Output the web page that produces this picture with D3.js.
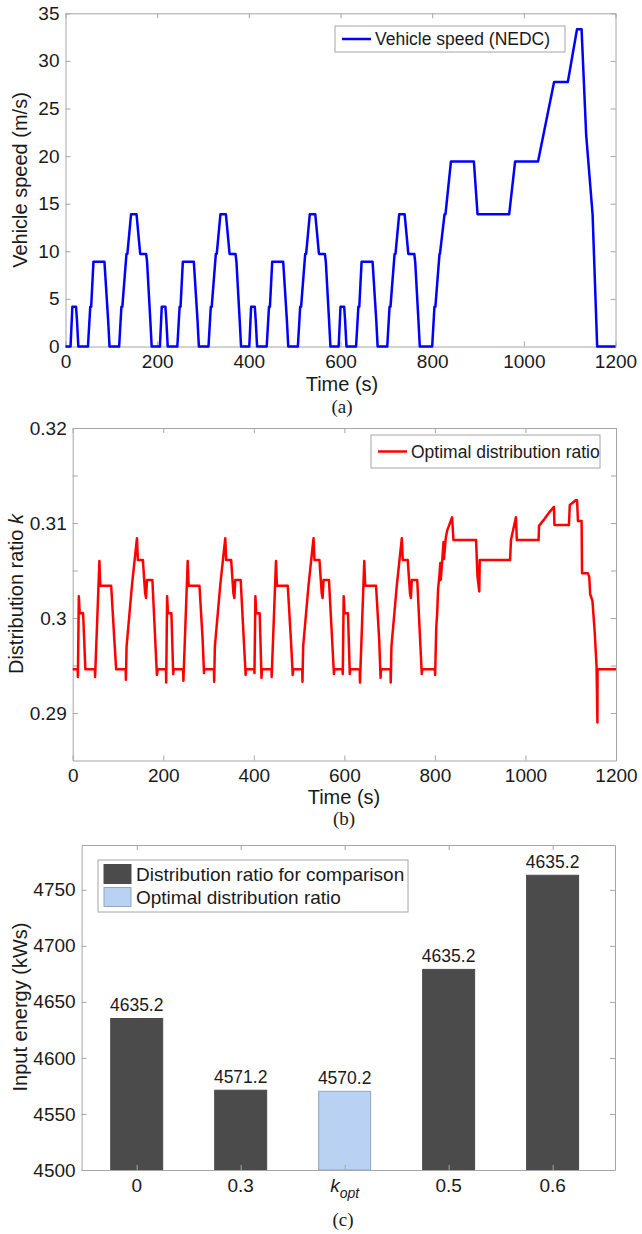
<!DOCTYPE html>
<html>
<head>
<meta charset="utf-8">
<script src="https://cdn.jsdelivr.net/npm/d3@7"></script>
<style>
  body { margin: 0; background: #fff; }
  svg text { font-family: "Liberation Sans", Arial, Helvetica, sans-serif; fill: #1a1a1a; }
  svg text.caption { font-family: "Liberation Serif", "Times New Roman", serif; }
</style>
</head>
<body>
<svg id="fig" width="642" height="1234"></svg>
<script>
// ---------- data ----------

// (a) NEDC vehicle speed, [time s, speed m/s]
const speedProfile = [
  [0, 0], [11, 0], [15, 4.17], [23, 4.17], [25, 2.78], [28, 0], [49, 0], [54, 4.17], [56, 4.17], [61, 8.89],
  [85, 8.89], [93, 2.78], [96, 0], [117, 0], [122, 4.17], [124, 4.17], [133, 9.72], [135, 9.72], [143, 13.89],
  [155, 13.89], [163, 9.72], [176, 9.72], [178, 8.89], [185, 2.78], [188, 0],
  [206, 0], [210, 4.17], [218, 4.17], [220, 2.78], [223, 0], [244, 0], [249, 4.17], [251, 4.17], [256, 8.89],
  [280, 8.89], [288, 2.78], [291, 0], [312, 0], [317, 4.17], [319, 4.17], [328, 9.72], [330, 9.72], [338, 13.89],
  [350, 13.89], [358, 9.72], [371, 9.72], [373, 8.89], [380, 2.78], [383, 0],
  [401, 0], [405, 4.17], [413, 4.17], [415, 2.78], [418, 0], [439, 0], [444, 4.17], [446, 4.17], [451, 8.89],
  [475, 8.89], [483, 2.78], [486, 0], [507, 0], [512, 4.17], [514, 4.17], [523, 9.72], [525, 9.72], [533, 13.89],
  [545, 13.89], [553, 9.72], [566, 9.72], [568, 8.89], [575, 2.78], [578, 0],
  [596, 0], [600, 4.17], [608, 4.17], [610, 2.78], [613, 0], [634, 0], [639, 4.17], [641, 4.17], [646, 8.89],
  [670, 8.89], [678, 2.78], [681, 0], [702, 0], [707, 4.17], [709, 4.17], [718, 9.72], [720, 9.72], [728, 13.89],
  [740, 13.89], [748, 9.72], [761, 9.72], [763, 8.89], [770, 2.78], [773, 0],
  [800, 0], [805, 4.17], [807, 4.17], [816, 9.72], [817, 9.72], [827, 13.89], [829, 13.89], [841, 19.44],
  [891, 19.44], [899, 13.89], [968, 13.89], [981, 19.44], [1031, 19.44], [1066, 27.78], [1096, 27.78],
  [1116, 33.33], [1126, 33.33], [1136, 22.22], [1150, 13.89], [1160, 0], [1200, 0]
];

// (b) optimal distribution ratio k, [time s, k]
const kProfile = [
  [0, 0.2946], [11, 0.2946], [11.5, 0.2938], [13.5, 0.3023], [15.5, 0.3005], [23, 0.3005], [28, 0.2946],
  [49, 0.2946], [49.5, 0.2938], [59, 0.3060], [61, 0.3034], [85, 0.3034], [92, 0.2977], [96, 0.2946],
  [117, 0.2946], [117.5, 0.2935], [119, 0.2970], [131, 0.3035], [137, 0.3062], [142, 0.3084], [144, 0.3061],
  [155, 0.3061], [160, 0.3026], [162, 0.3021], [164, 0.3040], [176, 0.3040], [186, 0.2940], [188, 0.2946],
  [206, 0.2946], [206.5, 0.2932], [208.5, 0.3023], [210.5, 0.3005], [218, 0.3005], [222, 0.2941], [223, 0.2946],
  [244, 0.2946], [244.5, 0.2934], [254, 0.3060], [256, 0.3034], [280, 0.3034], [287, 0.2977], [290, 0.2942],
  [291, 0.2946], [312, 0.2946], [312.5, 0.2933], [314, 0.2970], [326, 0.3035], [332, 0.3062], [337, 0.3084],
  [339, 0.3061], [350, 0.3061], [355, 0.3026], [357, 0.3021], [359, 0.3040], [371, 0.3040], [382, 0.2940],
  [383, 0.2946],
  [401, 0.2946], [401.5, 0.2942], [403.5, 0.3023], [405.5, 0.3005], [413, 0.3005], [417, 0.2937], [418, 0.2946],
  [439, 0.2946], [439.5, 0.2938], [449, 0.3060], [451, 0.3034], [475, 0.3034], [482, 0.2977], [486, 0.2940],
  [487, 0.2946], [507, 0.2946], [507.5, 0.2933], [509, 0.2970], [521, 0.3035], [527, 0.3062], [532, 0.3084],
  [534, 0.3061], [545, 0.3061], [550, 0.3026], [552, 0.3021], [554, 0.3040], [566, 0.3040], [577, 0.2941],
  [578, 0.2946],
  [596, 0.2946], [596.5, 0.2941], [598.5, 0.3023], [600.5, 0.3005], [608, 0.3005], [612, 0.2941], [613, 0.2946],
  [634, 0.2946], [634.5, 0.2932], [644, 0.3060], [646, 0.3034], [670, 0.3034], [677, 0.2977], [680, 0.2937],
  [681, 0.2946], [702, 0.2946], [702.5, 0.2932], [704, 0.2970], [716, 0.3035], [722, 0.3062], [727, 0.3084],
  [729, 0.3061], [740, 0.3061], [745, 0.3026], [747, 0.3021], [749, 0.3040], [761, 0.3040], [771, 0.2941],
  [772, 0.2946],
  [800, 0.2946], [800.5, 0.2940], [803, 0.2990], [805, 0.3005], [807, 0.3030], [810, 0.3045], [812, 0.3058],
  [813, 0.3040], [817, 0.3066], [819, 0.3080], [820, 0.3062], [824, 0.3084], [827, 0.3092], [831, 0.3097],
  [838, 0.3106], [841, 0.3082], [891, 0.3082], [894, 0.3044], [898, 0.3028], [899, 0.3061], [966, 0.3061],
  [968, 0.3082], [979, 0.3106], [981, 0.3082], [1029, 0.3082], [1030, 0.3097], [1040, 0.3103], [1054, 0.3112],
  [1063, 0.3117], [1064, 0.3098], [1096, 0.3098], [1098, 0.3119], [1111, 0.3124], [1114, 0.3124], [1116, 0.3102],
  [1124, 0.3102], [1125, 0.3047], [1138, 0.3047], [1141, 0.3043], [1143, 0.3025], [1148, 0.3018], [1153, 0.2985],
  [1157, 0.2950], [1159, 0.2890], [1159.2, 0.2946], [1200, 0.2946]
];

const timeTicks = [0, 200, 400, 600, 800, 1000, 1200];
const speedTicks = [0, 5, 10, 15, 20, 25, 30, 35];
const kTicks = [0.29, 0.295, 0.3, 0.305, 0.31, 0.315, 0.32];
const kTickLabels = ["0.29", "", "0.3", "", "0.31", "", "0.32"];

// (c) input energy per distribution ratio
const ratioCategories = ["0", "0.3", "kopt", "0.5", "0.6"];
const inputEnergy = [4635.2, 4571.2, 4570.2, 4679, 4763];
const energyLabels = ["4635.2", "4571.2", "4570.2", "4635.2", "4635.2"];
const isOptimal = [false, false, true, false, false];
const energyTicks = [4500, 4550, 4600, 4650, 4700, 4750];

// ---------- drawing ----------
const svg = d3.select("#fig");
const AXIS_GREY = "#a6a6a6";

// MATLAB-style boxed axes with inward ticks on all four sides
function drawFrame(x, y, xTicks, yTicks, xFmt, yFmt) {
  const [xl, xr] = x.range(), [yb, yt] = y.range();
  const g = svg.append("g");
  g.append("g").attr("transform", `translate(0,${yb})`)
    .call(d3.axisBottom(x).tickValues(xTicks).tickSize(-5).tickSizeOuter(0).tickPadding(8).tickFormat(xFmt));
  g.append("g").attr("transform", `translate(0,${yt})`)
    .call(d3.axisTop(x).tickValues(xTicks).tickSize(-5).tickSizeOuter(0).tickFormat(""));
  g.append("g").attr("transform", `translate(${xl},0)`)
    .call(d3.axisLeft(y).tickValues(yTicks).tickSize(-5).tickSizeOuter(0).tickPadding(6).tickFormat(yFmt));
  g.append("g").attr("transform", `translate(${xr},0)`)
    .call(d3.axisRight(y).tickValues(yTicks).tickSize(-5).tickSizeOuter(0).tickFormat(""));
  g.selectAll("text").attr("font-size", 19).attr("fill", "#1a1a1a");
  g.selectAll("path, line").attr("stroke", AXIS_GREY);
  return g;
}

function yTitle(cx, cy, parts, size) {
  const t = svg.append("text")
    .attr("transform", `translate(${cx},${cy}) rotate(-90)`)
    .attr("text-anchor", "middle").attr("font-size", size);
  parts.forEach(p => t.append("tspan").text(p.text).attr("font-style", p.italic ? "italic" : null));
}

function caption(cx, y, txt) {
  svg.append("text").attr("class", "caption").attr("x", cx).attr("y", y)
    .attr("text-anchor", "middle").attr("font-size", 19).text(txt);
}

function lineLegend(box, color, label) {
  const g = svg.append("g");
  g.append("rect").attr("x", box.x).attr("y", box.y).attr("width", box.w).attr("height", box.h)
    .attr("fill", "#fff").attr("stroke", AXIS_GREY);
  const cy = box.y + box.h / 2;
  g.append("line").attr("x1", box.x + 7).attr("x2", box.x + 36).attr("y1", cy).attr("y2", cy)
    .attr("stroke", color).attr("stroke-width", 2.5);
  g.append("text").attr("x", box.x + 40).attr("y", cy + 6).attr("font-size", 17.5).text(label);
}

// ----- (a) vehicle speed -----
const xA = d3.scaleLinear().domain([0, 1200]).range([65.5, 615.5]);
const yA = d3.scaleLinear().domain([0, 35]).range([346.5, 13.3]);
drawFrame(xA, yA, timeTicks, speedTicks, d3.format("d"), d3.format("d"));
svg.append("path").datum(speedProfile)
  .attr("fill", "none").attr("stroke", "#0000ff").attr("stroke-width", 2.5).attr("stroke-linejoin", "round")
  .attr("d", d3.line().x(d => xA(d[0])).y(d => yA(d[1])));
lineLegend({ x: 335, y: 26, w: 230, h: 26 }, "#0000ff", "Vehicle speed (NEDC)");
svg.append("text").attr("x", 342).attr("y", 391).attr("text-anchor", "middle").attr("font-size", 20).text("Time (s)");
yTitle(27, 180, [{ text: "Vehicle speed (m/s)" }], 20);
caption(342, 413, "(a)");

// ----- (b) distribution ratio -----
const xB = d3.scaleLinear().domain([0, 1200]).range([72.7, 616]);
const yB = d3.scaleLinear().domain([0.285, 0.32]).range([760.5, 428]);
drawFrame(xB, yB, timeTicks, kTicks, d3.format("d"), (d, i) => kTickLabels[i]);
svg.append("path").datum(kProfile)
  .attr("fill", "none").attr("stroke", "#ff0000").attr("stroke-width", 2.5).attr("stroke-linejoin", "round")
  .attr("d", d3.line().x(d => xB(d[0])).y(d => yB(d[1])));
lineLegend({ x: 371, y: 435, w: 229, h: 33 }, "#ff0000", "Optimal distribution ratio");
svg.append("text").attr("x", 344).attr("y", 804).attr("text-anchor", "middle").attr("font-size", 20).text("Time (s)");
yTitle(23, 594, [{ text: "Distribution ratio " }, { text: "k", italic: true }], 20);
caption(344, 825, "(b)");

// ----- (c) input energy bars -----
const xC = d3.scaleLinear().domain([0.47, 5.6]).range([81.6, 615]);
const yC = d3.scaleLinear().domain([4500, 4790]).range([1170, 845]);
const catPos = ratioCategories.map((c, i) => i + 1);
const barW = xC(1.25) - xC(0.75);

svg.append("g").selectAll("rect").data(inputEnergy).join("rect")
  .attr("x", (d, i) => xC(catPos[i]) - barW / 2)
  .attr("y", d => yC(d))
  .attr("width", barW)
  .attr("height", d => yC(4500) - yC(d))
  .attr("fill", (d, i) => isOptimal[i] ? "#b9d1f2" : "#4b4b4b")
  .attr("stroke", (d, i) => isOptimal[i] ? "#97a6ba" : "#4b4b4b")
  .attr("stroke-width", 1);

drawFrame(xC, yC, catPos, energyTicks, () => "", d3.format("d"));

svg.append("g").selectAll("text").data(inputEnergy).join("text")
  .attr("x", (d, i) => xC(catPos[i]))
  .attr("y", d => yC(d) - 7)
  .attr("text-anchor", "middle").attr("font-size", 17.5)
  .text((d, i) => energyLabels[i]);

// category labels, k_opt in italics with subscript
ratioCategories.forEach((c, i) => {
  const t = svg.append("text").attr("x", xC(catPos[i])).attr("y", 1192)
    .attr("text-anchor", "middle").attr("font-size", 19);
  if (c === "kopt") {
    t.append("tspan").attr("font-style", "italic").text("k");
    t.append("tspan").attr("font-style", "italic").attr("font-size", 14).attr("dy", 6).text("opt");
  } else {
    t.text(c);
  }
});

// legend (c)
const legC = svg.append("g");
legC.append("rect").attr("x", 98).attr("y", 860).attr("width", 310).attr("height", 52)
  .attr("fill", "#fff").attr("stroke", AXIS_GREY);
[["Distribution ratio for comparison", false], ["Optimal distribution ratio", true]].forEach(([label, opt], i) => {
  const cy = 874 + i * 23;
  legC.append("rect").attr("x", 104).attr("y", cy - 9.5).attr("width", 27).attr("height", 19)
    .attr("fill", opt ? "#b9d1f2" : "#4b4b4b").attr("stroke", opt ? "#97a6ba" : "#4b4b4b");
  legC.append("text").attr("x", 136).attr("y", cy + 7).attr("font-size", 19).text(label);
});

yTitle(27, 1007, [{ text: "Input energy (kWs)" }], 20);
caption(343, 1226, "(c)");
</script>
</body>
</html>
